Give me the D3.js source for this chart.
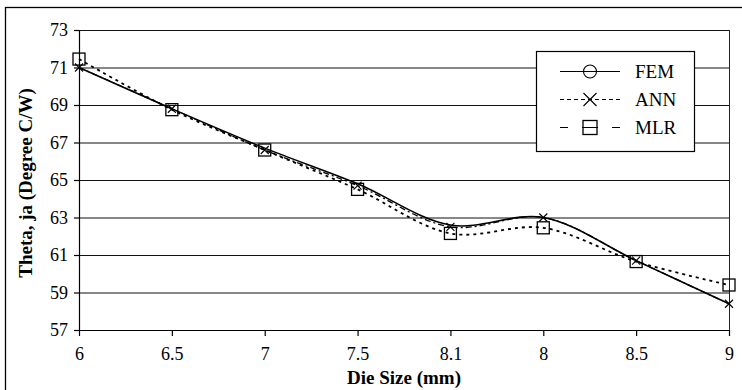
<!DOCTYPE html>
<html>
<head>
<meta charset="utf-8">
<script src="https://cdn.jsdelivr.net/npm/d3@7"></script>
<style>
  body { margin: 0; background: #fff; }
</style>
</head>
<body>
<svg width="742" height="390" font-family="'Liberation Serif', 'Times New Roman', Times, serif"></svg>
<script>
const categories = ['6', '6.5', '7', '7.5', '8.1', '8', '8.5', '9'];
const fem = [71.0, 68.8, 66.7, 64.8, 62.6, 63.0, 60.7, 58.4];
const ann = [71.0, 68.8, 66.6, 64.7, 62.5, 63.0, 60.7, 58.4];
const mlr = [71.45, 68.75, 66.6, 64.5, 62.15, 62.45, 60.65, 59.4];
const yTicks = [57, 59, 61, 63, 65, 67, 69, 71, 73];

const serif = "'Liberation Serif', 'Times New Roman', Times, serif";
const margin = { top: 30, right: 13, bottom: 60, left: 79 };
const width = 742 - margin.left - margin.right;
const height = 390 - margin.top - margin.bottom;

const svg = d3.select('svg');

// outer frame (runs off the bottom and right edge of the picture)
svg.append('rect')
    .attr('x', 5.5).attr('y', 7.5)
    .attr('width', 740).attr('height', 390)
    .attr('fill', 'none').attr('stroke', '#000').attr('stroke-width', 1.3);

const g = svg.append('g')
    .attr('transform', `translate(${margin.left},${margin.top})`);

const x = d3.scalePoint()
    .domain(categories)
    .range([0, width]);

const y = d3.scaleLinear()
    .domain([57, 73])
    .range([height, 0]);

// grid lines
g.append('g')
    .selectAll('line')
    .data(yTicks)
    .enter().append('line')
    .attr('x1', 0).attr('x2', width)
    .attr('y1', d => y(d) + 0.5).attr('y2', d => y(d) + 0.5)
    .attr('stroke', '#111').attr('stroke-width', 1.2);

// right border of plot area
g.append('line')
    .attr('x1', width + 0.5).attr('x2', width + 0.5)
    .attr('y1', 0).attr('y2', height)
    .attr('stroke', '#222');

const yAxis = g.append('g')
    .attr('class', 'axis axis--y')
    .call(d3.axisLeft(y).tickValues(yTicks).tickSize(5).tickSizeOuter(0).tickPadding(6));

const xAxis = g.append('g')
    .attr('class', 'axis axis--x')
    .attr('transform', `translate(0,${height})`)
    .call(d3.axisBottom(x).tickSize(6).tickSizeOuter(0).tickPadding(11));

[yAxis, xAxis].forEach(a => {
    a.attr('font-family', serif).attr('font-size', 18);
    a.selectAll('path, line').attr('stroke', '#000').attr('stroke-width', 1.2);
    a.selectAll('text').attr('fill', '#000');
});

// axis titles
svg.append('text')
    .attr('transform', `translate(32,183) rotate(-90)`)
    .attr('text-anchor', 'middle')
    .attr('font-size', 19)
    .attr('font-weight', 'bold')
    .text('Theta, ja (Degree C/W)');

svg.append('text')
    .attr('x', margin.left + width / 2)
    .attr('y', 384)
    .attr('text-anchor', 'middle')
    .attr('font-size', 19)
    .attr('font-weight', 'bold')
    .text('Die Size (mm)');

const line = d3.line()
    .x((d, i) => x(categories[i]))
    .y(d => y(d))
    .curve(d3.curveCatmullRom.alpha(0.5));

const series = [
    { name: 'FEM', values: fem, dash: null, width: 1.6, marker: 'circle', legendDash: null },
    { name: 'ANN', values: ann, dash: '6,3,2,3', width: 1.3, marker: 'cross', legendDash: '4,3' },
    { name: 'MLR', values: mlr, dash: '3,4', width: 1.8, marker: 'square', legendDash: '8,14,16,14,8' }
];

series.forEach(s => {
    g.append('path')
        .datum(s.values)
        .attr('fill', 'none')
        .attr('stroke', '#000')
        .attr('stroke-width', s.width)
        .attr('stroke-dasharray', s.dash)
        .attr('d', line);
});

function drawMarker(sel, type, cx, cy, size) {
    if (type === 'square') {
        sel.append('rect')
            .attr('x', cx - size / 2).attr('y', cy - size / 2)
            .attr('width', size).attr('height', size)
            .attr('fill', 'none').attr('stroke', '#000').attr('stroke-width', 1.3);
    } else if (type === 'cross') {
        const h = size / 2;
        sel.append('path')
            .attr('d', `M${cx - h},${cy - h}L${cx + h},${cy + h}M${cx - h},${cy + h}L${cx + h},${cy - h}`)
            .attr('stroke', '#000').attr('stroke-width', 1.1);
    } else {
        sel.append('circle')
            .attr('cx', cx).attr('cy', cy).attr('r', size / 2)
            .attr('fill', 'none').attr('stroke', '#000').attr('stroke-width', 1.1);
    }
}

// markers on data (FEM circles do not show in the original)
const mk = g.append('g');
ann.forEach((v, i) => drawMarker(mk, 'cross', x(categories[i]), y(v), 8));
mlr.forEach((v, i) => drawMarker(mk, 'square', x(categories[i]), y(v), 12));

// legend
const legend = svg.append('g').attr('transform', 'translate(536,51)');
legend.append('rect')
    .attr('x', 0.5).attr('y', 0.5)
    .attr('width', 158).attr('height', 100)
    .attr('fill', '#fff').attr('stroke', '#000').attr('stroke-width', 1.2);

series.forEach((s, i) => {
    const ly = 20.5 + i * 28;
    legend.append('line')
        .attr('x1', 24).attr('x2', 84)
        .attr('y1', ly).attr('y2', ly)
        .attr('stroke', '#000').attr('stroke-width', 1)
        .attr('stroke-dasharray', s.legendDash);
    drawMarker(legend, s.marker, 54, ly, s.marker === 'square' ? 14 : 13);
    legend.append('text')
        .attr('x', 99)
        .attr('y', ly + 6)
        .attr('font-size', 19)
        .text(s.name);
});
</script>
</body>
</html>
